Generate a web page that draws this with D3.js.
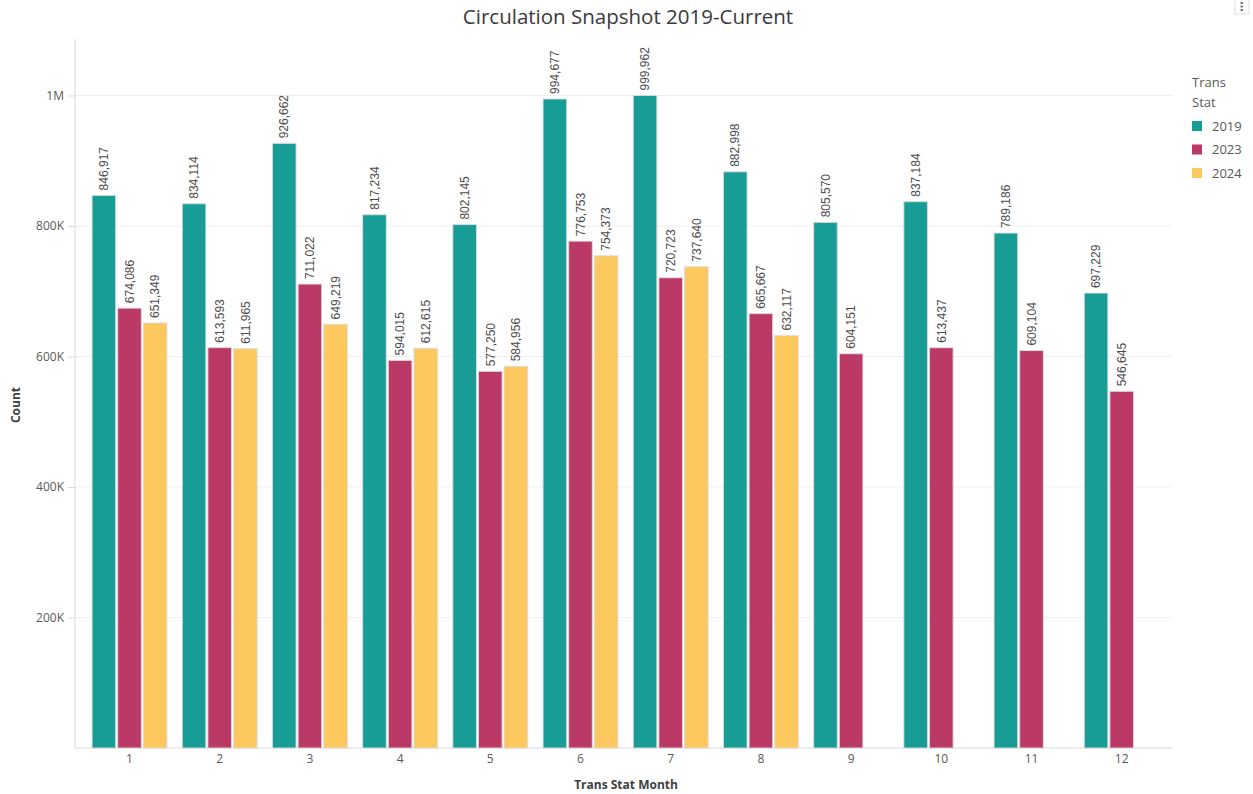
<!DOCTYPE html>
<html>
<head>
<meta charset="utf-8">
<script src="https://cdn.jsdelivr.net/npm/d3@7"></script>
<style>
  body { margin: 0; background: #fff; }
  text { font-family: "Open Sans", sans-serif; }
</style>
</head>
<body>
<svg id="chart" width="1253" height="794"></svg>
<script>
const months = ["1", "2", "3", "4", "5", "6", "7", "8", "9", "10", "11", "12"];
const years = ["2019", "2023", "2024"];
const values2019 = [846917, 834114, 926662, 817234, 802145, 994677, 999962, 882998, 805570, 837184, 789186, 697229];
const values2023 = [674086, 613593, 711022, 594015, 577250, 776753, 720723, 665667, 604151, 613437, 609104, 546645];
const values2024 = [651349, 611965, 649219, 612615, 584956, 754373, 737640, 632117, null, null, null, null];
const yTicks = [200000, 400000, 600000, 800000, 1000000];
const yTickLabels = ["200K", "400K", "600K", "800K", "1M"];

const COLORS = { "2019": "#179c96", "2023": "#bb3966", "2024": "#fdc85e" };
const series = { "2019": values2019, "2023": values2023, "2024": values2024 };

const svg = d3.select("#chart");
const AXIS_LEFT = 75;
const AXIS_RIGHT = 1172;
const BASE = 748;
const TOP = 39;

const x0 = d3.scaleBand().domain(months).range([84.4, 1166.8])
  .paddingInner(0.17).paddingOuter(0.085);
const x1 = d3.scaleBand().domain(years).range([0, x0.bandwidth()]).paddingInner(0.08);
const y = d3.scaleLinear().domain([0, 1086600]).range([BASE, TOP]);

// gridlines
svg.append("g")
  .selectAll("line")
  .data(yTicks)
  .join("line")
  .attr("x1", AXIS_LEFT).attr("x2", AXIS_RIGHT)
  .attr("y1", (d) => y(d)).attr("y2", (d) => y(d))
  .attr("stroke", "#efefef");

// y axis
const yAxis = svg.append("g")
  .attr("transform", `translate(${AXIS_LEFT},0)`)
  .call(d3.axisLeft(y).tickValues(yTicks).tickSize(7).tickPadding(4)
    .tickFormat((d, i) => yTickLabels[i]));
yAxis.select(".domain").remove();
yAxis.selectAll(".tick line").attr("stroke", "#d9d9d9");
yAxis.selectAll(".tick text").attr("fill", "#595959").style("font-size", "12px")
  .style("font-family", "'Open Sans', sans-serif");
svg.append("line")
  .attr("x1", AXIS_LEFT).attr("x2", AXIS_LEFT).attr("y1", TOP).attr("y2", BASE)
  .attr("stroke", "#d9d9d9");

// x axis
const xAxis = svg.append("g")
  .attr("transform", `translate(0,${BASE})`)
  .call(d3.axisBottom(x0).tickSize(0).tickPadding(6));
xAxis.select(".domain").remove();
xAxis.selectAll(".tick text").attr("fill", "#595959").style("font-size", "12px")
  .style("font-family", "'Open Sans', sans-serif");
svg.append("line")
  .attr("x1", AXIS_LEFT).attr("x2", AXIS_RIGHT).attr("y1", BASE).attr("y2", BASE)
  .attr("stroke", "#d9d9d9");

// bars
const rows = [];
months.forEach((m, i) => {
  years.forEach((yr) => {
    const v = series[yr][i];
    if (v != null) rows.push({ month: m, year: yr, value: v });
  });
});

svg.append("g")
  .selectAll("rect")
  .data(rows)
  .join("rect")
  .attr("x", (d) => x0(d.month) + x1(d.year))
  .attr("y", (d) => y(d.value))
  .attr("width", x1.bandwidth())
  .attr("height", (d) => BASE - y(d.value))
  .attr("fill", (d) => COLORS[d.year])
  .attr("stroke", "rgba(220,220,220,0.9)")
  .attr("stroke-width", 1);

const fmt = d3.format(",");
svg.append("g")
  .selectAll("text")
  .data(rows)
  .join("text")
  .attr("transform", (d) => {
    const cx = x0(d.month) + x1(d.year) + x1.bandwidth() / 2;
    return `translate(${cx},${y(d.value) - 5}) rotate(-90)`;
  })
  .attr("dy", "0.35em")
  .attr("fill", "#4d4d4d")
  .style("font-family", "'Liberation Sans', Arial, sans-serif")
  .style("font-size", "12px")
  .text((d) => fmt(d.value));

// title and axis titles
svg.append("text")
  .attr("x", 628).attr("y", 24)
  .attr("text-anchor", "middle")
  .attr("fill", "#3a3a3a")
  .style("font-size", "20.5px")
  .text("Circulation Snapshot 2019-Current");

svg.append("text")
  .attr("transform", "translate(20,405) rotate(-90)")
  .attr("text-anchor", "middle")
  .attr("fill", "#404040")
  .style("font-size", "12px")
  .style("font-weight", "bold")
  .text("Count");

svg.append("text")
  .attr("x", 626).attr("y", 789)
  .attr("text-anchor", "middle")
  .attr("fill", "#404040")
  .style("font-size", "12px")
  .style("font-weight", "bold")
  .text("Trans Stat Month");

// legend
const legend = svg.append("g").attr("transform", "translate(1192,0)");
legend.append("text").attr("x", 0).attr("y", 87).attr("fill", "#595959")
  .style("font-size", "13px").text("Trans");
legend.append("text").attr("x", 0).attr("y", 107).attr("fill", "#595959")
  .style("font-size", "13px").text("Stat");
const items = legend.selectAll("g.item")
  .data(years)
  .join("g")
  .attr("class", "item")
  .attr("transform", (d, i) => `translate(0,${126 + i * 23.5})`);
items.append("rect")
  .attr("x", 0).attr("y", -5).attr("width", 10).attr("height", 10)
  .attr("fill", (d) => COLORS[d]);
items.append("text")
  .attr("x", 20).attr("y", 0).attr("dy", "0.35em")
  .attr("fill", "#595959")
  .style("font-size", "13px")
  .text((d) => d);

// menu icon in corner
const menu = svg.append("g").attr("transform", "translate(1235,0)");
menu.append("rect").attr("x", 0).attr("y", -2).attr("width", 14).attr("height", 16)
  .attr("fill", "#fff").attr("stroke", "#e0e0e0");
[3, 6.5, 10].forEach((cy) => {
  menu.append("rect").attr("x", 5.5).attr("y", cy - 1).attr("width", 2.5).attr("height", 2)
    .attr("fill", "#777");
});
</script>
</body>
</html>
